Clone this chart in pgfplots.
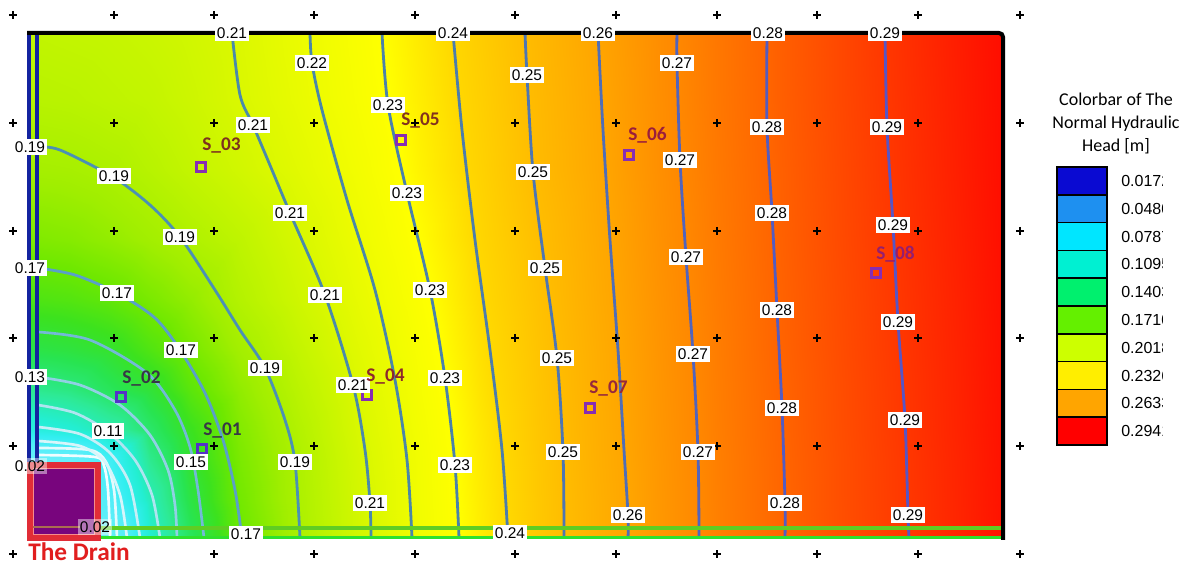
\documentclass[border=0pt]{standalone}
\usepackage{pgfplots}
\pgfplotsset{compat=1.18}
\usepackage{pgfplotstable}
\usepackage{fontspec}
\setmainfont{Liberation Sans}
\newfontfamily\calibri{Carlito}

\definecolor{c03}{RGB}{240,253,255}
\definecolor{c05}{RGB}{228,250,253}
\definecolor{c07}{RGB}{215,245,250}
\definecolor{c09}{RGB}{198,238,246}
\definecolor{c11}{RGB}{175,228,240}
\definecolor{c13}{RGB}{145,208,228}
\definecolor{c15}{RGB}{115,185,215}
\definecolor{c17}{RGB}{90,160,200}
\definecolor{c19}{RGB}{75,145,180}
\definecolor{c21}{RGB}{74,138,170}
\definecolor{c22}{RGB}{74,135,168}
\definecolor{c23}{RGB}{74,130,170}
\definecolor{c24}{RGB}{76,125,172}
\definecolor{c25}{RGB}{78,118,178}
\definecolor{c26}{RGB}{80,110,182}
\definecolor{c27}{RGB}{82,100,188}
\definecolor{c28}{RGB}{84,92,192}
\definecolor{c29}{RGB}{88,85,196}
\definecolor{navyb}{RGB}{20,35,160}
\definecolor{gA}{RGB}{95,205,35}
\definecolor{gB}{RGB}{45,225,45}
\definecolor{drainred}{RGB}{225,45,55}
\definecolor{drainpink}{RGB}{245,140,140}
\definecolor{drainfill}{RGB}{120,5,125}
\definecolor{drainbrown}{RGB}{170,110,80}
\definecolor{sqA}{RGB}{85,50,200}
\definecolor{sqB}{RGB}{135,45,180}
\definecolor{thedrain}{RGB}{225,30,30}
\definecolor{sb1}{RGB}{10,10,210}
\definecolor{sb2}{RGB}{30,144,240}
\definecolor{sb3}{RGB}{0,230,255}
\definecolor{sb4}{RGB}{0,240,210}
\definecolor{sb5}{RGB}{0,240,110}
\definecolor{sb6}{RGB}{100,240,0}
\definecolor{sb7}{RGB}{205,255,0}
\definecolor{sb8}{RGB}{255,238,0}
\definecolor{sb9}{RGB}{255,165,0}
\definecolor{sb10}{RGB}{255,0,0}

\pgfplotsset{colormap={field}{rgb255(20pt)=(110,240,250) rgb255(60pt)=(80,238,248) rgb255(80pt)=(50,238,240) rgb255(100pt)=(35,238,210) rgb255(120pt)=(45,234,150) rgb255(140pt)=(40,228,80) rgb255(155pt)=(60,226,30) rgb255(170pt)=(110,232,0) rgb255(185pt)=(160,238,0) rgb255(200pt)=(195,245,0) rgb255(210pt)=(218,248,0) rgb255(220pt)=(238,252,0) rgb255(230pt)=(255,255,0) rgb255(240pt)=(255,215,0) rgb255(250pt)=(255,188,0) rgb255(260pt)=(255,165,0) rgb255(270pt)=(255,135,0) rgb255(280pt)=(255,100,0) rgb255(290pt)=(255,55,0) rgb255(300pt)=(255,10,0)}}

\pgfplotstableread{
x y h
28 33 0.199
70 33 0.200
110 33 0.201
150 33 0.203
190 33 0.206
240 33 0.211
300 33 0.2187
360 33 0.2269
420 33 0.2354
480 33 0.2438
540 33 0.2521
600 33 0.2603
660 33 0.2678
720 33 0.2748
780 33 0.2811
840 33 0.2862
900 33 0.2912
960 33 0.2960
1003 33 0.2994
28 100 0.195
70 100 0.196
110 100 0.198
150 100 0.200
190 100 0.204
240 100 0.2099
300 100 0.2174
360 100 0.2258
420 100 0.2344
480 100 0.2428
540 100 0.2515
600 100 0.2597
660 100 0.2676
720 100 0.2747
780 100 0.2811
840 100 0.2862
900 100 0.2910
960 100 0.2958
1003 100 0.2993
28 170 0.187
70 170 0.188
110 170 0.1905
150 170 0.195
190 170 0.200
240 170 0.206
300 170 0.2141
360 170 0.2232
420 170 0.2330
480 170 0.2418
540 170 0.2510
600 170 0.2592
660 170 0.2673
720 170 0.2744
780 170 0.2808
840 170 0.2859
900 170 0.2908
960 170 0.2956
1003 170 0.2992
28 240 0.175
70 240 0.177
110 240 0.181
150 240 0.186
190 240 0.1915
240 240 0.198
300 240 0.2088
360 240 0.2200
420 240 0.2305
480 240 0.2404
540 240 0.2493
600 240 0.2583
660 240 0.2667
720 240 0.2740
780 240 0.2806
840 240 0.2857
900 240 0.2905
960 240 0.2953
1003 240 0.2990
28 300 0.160
70 300 0.162
110 300 0.166
150 300 0.1735
190 300 0.181
240 300 0.1935
300 300 0.2052
360 300 0.2170
420 300 0.2281
480 300 0.2391
540 300 0.2483
600 300 0.2577
660 300 0.2661
720 300 0.2736
780 300 0.2803
840 300 0.2854
900 300 0.2902
960 300 0.2950
1003 300 0.2988
28 350 0.142
70 350 0.145
110 350 0.150
150 350 0.161
190 350 0.1725
240 350 0.1865
300 350 0.2004
360 350 0.2138
420 350 0.2262
480 350 0.2377
540 350 0.2475
600 350 0.2569
660 350 0.2656
720 350 0.2732
780 350 0.2801
840 350 0.2852
900 350 0.2900
960 350 0.2948
1003 350 0.2986
28 390 0.121
70 390 0.126
110 390 0.137
150 390 0.147
190 390 0.164
240 390 0.1806
300 390 0.1967
360 390 0.2114
420 390 0.2248
480 390 0.2368
540 390 0.2470
600 390 0.2566
660 390 0.2653
720 390 0.2730
780 390 0.2798
840 390 0.2850
900 390 0.2898
960 390 0.2947
1003 390 0.2985
28 430 0.090
70 430 0.097
110 430 0.111
150 430 0.1325
190 430 0.154
240 430 0.1762
300 430 0.1935
360 430 0.2097
420 430 0.2235
480 430 0.2357
540 430 0.2466
600 430 0.2563
660 430 0.2651
720 430 0.2728
780 430 0.2797
840 430 0.2849
900 430 0.2897
960 430 0.2946
1003 430 0.2984
28 460 0.025
70 460 0.030
110 460 0.070
150 460 0.122
190 460 0.149
240 460 0.1738
300 460 0.1916
360 460 0.2083
420 460 0.2227
480 460 0.2352
540 460 0.2462
600 460 0.2561
660 460 0.2648
720 460 0.2726
780 460 0.2795
840 460 0.2847
900 460 0.2895
960 460 0.2944
1003 460 0.2983
28 500 0.020
70 500 0.020
110 500 0.057
150 500 0.108
190 500 0.143
240 500 0.1716
300 500 0.1908
360 500 0.2073
420 500 0.2225
480 500 0.2347
540 500 0.2459
600 500 0.2557
660 500 0.2646
720 500 0.2725
780 500 0.2794
840 500 0.2847
900 500 0.2894
960 500 0.2943
1003 500 0.2982
28 538 0.020
70 538 0.020
110 538 0.030
150 538 0.100
190 538 0.136
240 538 0.169
300 538 0.190
360 538 0.2069
420 538 0.2219
480 538 0.2343
540 538 0.2457
600 538 0.2556
660 538 0.2645
720 538 0.2724
780 538 0.2794
840 538 0.2846
900 538 0.2894
960 538 0.2942
1003 538 0.2981
}\fieldtable

\begin{document}
\begin{tikzpicture}
\pgfplotsset{base/.style={scale only axis, width=896.25pt, height=424.5pt,
  xmin=0, xmax=1195, ymin=0, ymax=566, y dir=reverse, hide axis,
  at={(0,0)}, anchor=south west}}
% colour field
\begin{axis}[base, view={0}{90}, colormap name=field,
  point meta min=0.02, point meta max=0.30, clip=false]
\addplot3[surf, shader=interp, mesh/cols=19, point meta=\thisrow{h}]
  table[x=x, y=y, z=h] {\fieldtable};
\end{axis}
% contours and marks
\begin{axis}[base, clip=false]
\addplot[smooth, line width=2pt, c03] coordinates {(38,455) (95,457) (104,466) (108,490) (110,538)};
\addplot[smooth, line width=2pt, c05] coordinates {(38,448) (90,450) (106,462) (114,490) (117,538)};
\addplot[smooth, line width=2pt, c07] coordinates {(38,441) (80,446) (105,462) (120,495) (127,538)};
\addplot[smooth, line width=2pt, c09] coordinates {(38,427) (80,434) (110,453) (130,485) (140,538)};
\addplot[smooth, line width=2pt, c11] coordinates {(38,405) (75,413) (108,432) (135,460) (152,495) (160,538)};
\addplot[smooth, line width=2pt, c13] coordinates {(38,377) (80,385) (120,405) (150,435) (168,470) (175,505) (177,538)};
\addplot[smooth, line width=2pt, c15] coordinates {(38,332) (90,340) (147,373) (175,410) (190,447) (198,490) (204,538)};
\addplot[smooth, line width=2.1pt, c17] coordinates {(38,268) (75,275) (117,293) (155,318) (180,350) (205,393) (223,440) (235,490) (242,538)};
\addplot[smooth, line width=2.1pt, c19] coordinates {(38,147) (60,150) (113,177) (150,205) (180,237) (215,290) (240,330) (265,368) (285,420) (295,462) (300,538)};
\addplot[smooth, line width=2.1pt, c21] coordinates {(232,33) (240,95) (253,125) (272,170) (290,213) (325,295) (353,385) (365,450) (370,503) (371,538)};
\addplot[smooth, line width=2.1pt, c22] coordinates {(310,33) (312,63) (322,110) (347,200) (375,290) (395,380) (407,460) (412,538)};
\addplot[smooth, line width=2.1pt, c23] coordinates {(382,33) (388,105) (407,193) (430,290) (445,378) (455,465) (459,538)};
\addplot[smooth, line width=2.1pt, c24] coordinates {(453,33) (462,130) (475,240) (490,350) (502,450) (508,538)};
\addplot[smooth, line width=2.1pt, c25] coordinates {(525,33) (527,75) (533,172) (545,268) (557,358) (563,452) (564,538)};
\addplot[smooth, line width=2.1pt, c26] coordinates {(598,33) (603,130) (610,240) (618,350) (624,450) (628,515) (628,538)};
\addplot[smooth, line width=2.1pt, c27] coordinates {(677,33) (677,63) (680,160) (686,257) (693,354) (698,452) (699,538)};
\addplot[smooth, line width=2.1pt, c28] coordinates {(767,33) (767,127) (772,213) (777,310) (782,408) (785,503) (785,538)};
\addplot[smooth, line width=2.1pt, c29] coordinates {(885,33) (887,127) (893,225) (898,322) (905,420) (908,515) (909,538)};
% grid crosses
\addplot[only marks, mark=+, mark size=3pt, mark options={line width=0.9pt, black}] coordinates {
(13,15) (114,15) (214,15) (314,15) (415,15) (515,15) (616,15) (717,15) (817,15) (918,15) (1020,15)
(13,123) (114,123) (214,123) (314,123) (415,123) (515,123) (616,123) (717,123) (817,123) (918,123) (1020,123)
(13,231) (114,231) (214,231) (314,231) (415,231) (515,231) (616,231) (717,231) (817,231) (918,231) (1020,231)
(13,338) (114,338) (214,338) (314,338) (415,338) (515,338) (616,338) (717,338) (817,338) (918,338) (1020,338)
(13,446) (114,446) (214,446) (314,446) (415,446) (515,446) (616,446) (717,446) (817,446) (918,446) (1020,446)
(13,554) (214,554) (314,554) (415,554) (515,554) (616,554) (717,554) (817,554) (918,554) (1020,554)};
\end{axis}
\begin{scope}[x=0.75pt, y=-0.75pt, yshift=424.5pt]
\path (0,0) rectangle (1195,566);
% borders
\draw[line width=2.8pt, navyb] (29,33) -- (29,463);
\draw[line width=2.8pt, navyb] (37,33) -- (37,463);
\draw[line width=2.5pt, gA] (100,528) -- (1002,528);
\draw[line width=2.5pt, gB] (100,537.5) -- (1002,537.5);
\draw[line width=3pt, black, rounded corners=3pt] (27,33) -- (1003,33) -- (1003,540);
% drain
\draw[line width=4pt, drainred, fill=drainfill] (30,465) rectangle (98,538);
\draw[line width=1.2pt, drainpink] (33.5,468.5) rectangle (94.5,534.5);
\draw[line width=2.2pt, drainbrown] (33,527) -- (80,527);
\end{scope}
% sample squares
\begin{axis}[base, clip=false]
\addplot[only marks, mark=square, mark size=3.6pt, mark options={line width=2pt, sqA}] coordinates {(121,397) (202,449)};
\addplot[only marks, mark=square, mark size=3.6pt, mark options={line width=2pt, sqB}] coordinates {(201,167) (367,395) (401,140) (629,155) (590,408) (876,273)};
\end{axis}
\begin{scope}[x=0.75pt, y=-0.75pt, yshift=424.5pt,
  cl/.style={fill=white, inner xsep=1.2pt, inner ysep=2.1pt, text height=8.3pt, text depth=0pt, font=\fontsize{11.6}{11.6}\selectfont},
  cp/.style={cl, fill opacity=0.45, text opacity=1},
  sl/.style={anchor=base west, inner sep=0pt, font=\calibri\bfseries\fontsize{14.5}{14.5}\selectfont}]
% contour labels
\foreach \p in {(232,33),(253,125),(290,213),(325,295),(353,385),(370,503)} \node[cl] at \p {0.21};
\node[cl] at (312,63) {0.22};
\foreach \p in {(388,105),(407,193),(430,290),(445,378),(455,465)} \node[cl] at \p {0.23};
\foreach \p in {(453,33),(510,533)} \node[cl] at \p {0.24};
\foreach \p in {(527,75),(533,172),(545,268),(557,358),(563,452)} \node[cl] at \p {0.25};
\foreach \p in {(598,33),(628,515)} \node[cl] at \p {0.26};
\foreach \p in {(677,63),(680,160),(686,257),(693,354),(698,452)} \node[cl] at \p {0.27};
\foreach \p in {(768,33),(767,127),(772,213),(777,310),(782,408),(785,503)} \node[cl] at \p {0.28};
\foreach \p in {(885,33),(887,127),(893,225),(898,322),(905,420),(908,515)} \node[cl] at \p {0.29};
\foreach \p in {(30,147),(114,176),(180,237),(265,368),(295,462)} \node[cl] at \p {0.19};
\foreach \p in {(30,268),(117,293),(181,350),(246,534)} \node[cl] at \p {0.17};
\node[cl] at (191,462) {0.15};
\node[cl] at (30,377) {0.13};
\node[cl] at (108,431) {0.11};
\node[cp] at (30,466) {0.02};
\node[cp] at (95,527) {0.02};
% sample labels
\node[sl, text={rgb,255:red,55;green,55;blue,70}] at (203,436) {S\_01};
\node[sl, text={rgb,255:red,55;green,55;blue,70}] at (122,384) {S\_02};
\node[sl, text={rgb,255:red,125;green,50;blue,30}] at (202,151) {S\_03};
\node[sl, text={rgb,255:red,140;green,40;blue,45}] at (366,382) {S\_04};
\node[sl, text={rgb,255:red,130;green,50;blue,30}] at (401,126) {S\_05};
\node[sl, text={rgb,255:red,155;green,30;blue,60}] at (628,141) {S\_06};
\node[sl, text={rgb,255:red,150;green,40;blue,60}] at (589,394) {S\_07};
\node[sl, text={rgb,255:red,150;green,30;blue,110}] at (876,260) {S\_08};
\node[anchor=base west, inner sep=0pt, text=thedrain, font=\calibri\bfseries\fontsize{19}{19}\selectfont] at (28,561) {The Drain};
% colour legend
\node[align=center, inner sep=0pt, anchor=north, font=\calibri\fontsize{13.5}{17.25}\selectfont] at (1116,93) {Colorbar of The\\Normal Hydraulic\\Head [m]};
\foreach \i/\c in {0/sb1,1/sb2,2/sb3,3/sb4,4/sb5,5/sb6,6/sb7,7/sb8,8/sb9,9/sb10}
  \draw[line width=1.1pt, black, fill=\c] (1057,{167+27.8*\i}) rectangle (1107,{167+27.8*(\i+1)});
\begin{scope}
\clip (1110,150) rectangle (1162,460);
\foreach \i/\v in {0/0.0172,1/0.0480,2/0.0787,3/0.1095,4/0.1403,5/0.1710,6/0.2018,7/0.2326,8/0.2633,9/0.2941}
  \node[anchor=west, inner sep=0pt, font=\fontsize{12}{12}\selectfont] at (1121,{181+27.8*\i}) {\v};
\end{scope}
\end{scope}
\end{tikzpicture}
\end{document}
